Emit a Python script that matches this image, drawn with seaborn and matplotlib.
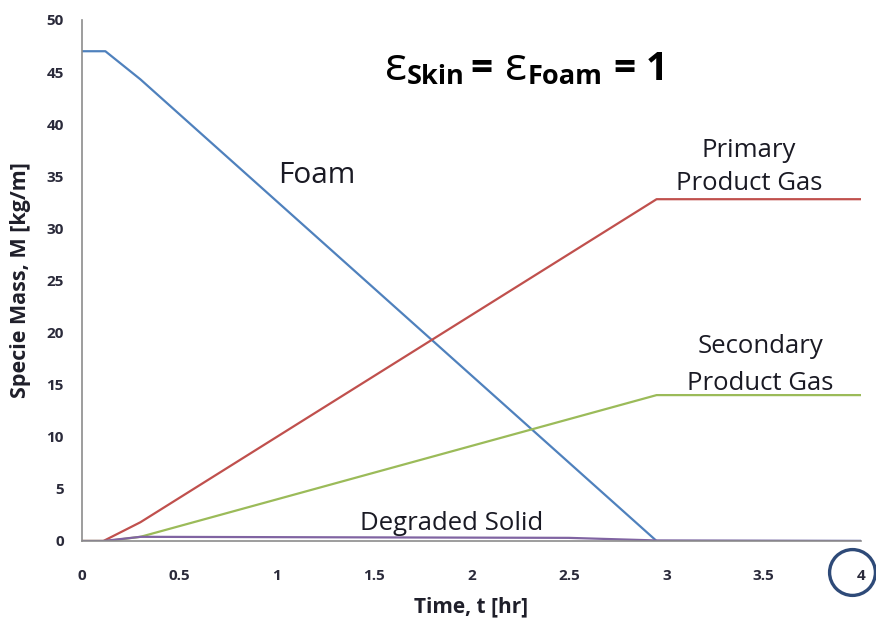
import numpy as np
import pandas as pd
import matplotlib
matplotlib.use("Agg")
import matplotlib.pyplot as plt
import matplotlib.transforms as mtransforms
import seaborn as sns

# Species mass histories (time in hours, mass per unit length in kg/m)
foam_t = [0.0, 0.12, 0.30, 2.95, 4.0]
foam_m = [47.0, 47.0, 44.3, 0.0, 0.0]

primary_t = [0.0, 0.11, 0.30, 2.95, 4.0]
primary_m = [0.0, 0.0, 1.8, 32.8, 32.8]

secondary_t = [0.0, 0.13, 0.30, 2.95, 4.0]
secondary_m = [0.0, 0.0, 0.4, 14.0, 14.0]

degraded_t = [0.0, 0.11, 0.30, 2.50, 2.95, 4.0]
degraded_m = [0.0, 0.0, 0.40, 0.30, 0.05, 0.0]

series_names = ["Foam", "Primary Product Gas", "Secondary Product Gas", "Degraded Solid"]
series_colors = ["#4F81BD", "#C0504D", "#9BBB59", "#8064A2"]

x_ticks = [0, 0.5, 1, 1.5, 2, 2.5, 3, 3.5, 4]
x_tick_labels = ["0", "0.5", "1", "1.5", "2", "2.5", "3", "3.5", "4"]
y_ticks = [0, 5, 10, 15, 20, 25, 30, 35, 40, 45, 50]

frames = []
for name, t, m in zip(series_names,
                      [foam_t, primary_t, secondary_t, degraded_t],
                      [foam_m, primary_m, secondary_m, degraded_m]):
    frames.append(pd.DataFrame({"time": t, "mass": m, "species": name}))
df = pd.concat(frames, ignore_index=True)

sns.set_theme(style="white")
plt.rcParams["font.family"] = ["Open Sans", "DejaVu Sans"]

W, H = 876, 626
fig = plt.figure(figsize=(W / 100, H / 100), dpi=100)
ax = fig.add_axes([0.0936, 0.1358, 0.8894, 0.8323])

sns.lineplot(data=df, x="time", y="mass", hue="species", hue_order=series_names,
             palette=series_colors, linewidth=1.6, legend=False, ax=ax,
             sort=False, estimator=None)

ax.set_xlim(0, 4)
ax.set_ylim(0, 50)
ax.set_xticks(x_ticks)
ax.set_xticklabels(x_tick_labels)
ax.set_yticks(y_ticks)
tick_color = "#2a2a3a"
ax.tick_params(axis="x", length=0, pad=20, labelsize=11, labelcolor=tick_color)
ax.tick_params(axis="y", length=0, pad=13, labelsize=11, labelcolor=tick_color)
for lbl in ax.get_xticklabels() + ax.get_yticklabels():
    lbl.set_fontweight("bold")

for side in ["top", "right"]:
    ax.spines[side].set_visible(False)
for side in ["left", "bottom"]:
    ax.spines[side].set_color("#8c8c8c")
    ax.spines[side].set_linewidth(1.2)

ax.set_xlabel("Time, t [hr]", fontsize=15, fontweight="bold", color="#1f1f2a", labelpad=10)
ax.set_ylabel("Specie Mass, M [kg/m]", fontsize=15.5, fontweight="bold", color="#1f1f2a", labelpad=11)

# Curve labels
txt_color = "#1a1a24"
ax.text(1.207, 34.36, "Foam", fontsize=21.5, color=txt_color, ha="center", va="baseline")
ax.text(3.425, 36.85, "Primary", fontsize=18.5, color=txt_color, ha="center", va="baseline")
ax.text(3.425, 33.69, "Product Gas", fontsize=18.5, color=txt_color, ha="center", va="baseline")
ax.text(3.481, 18.04, "Secondary", fontsize=18.5, color=txt_color, ha="center", va="baseline")
ax.text(3.481, 14.49, "Product Gas", fontsize=18.5, color=txt_color, ha="center", va="baseline")
ax.text(1.90, 1.06, "Degraded Solid", fontsize=18.5, color=txt_color, ha="center", va="baseline")


def fig_text_px(x_px, y_px, s, **kw):
    """Place text using pixel coordinates measured from the top-left corner."""
    return fig.text(x_px / W, 1 - y_px / H, s, ha="left", va="baseline", **kw)


# Emissivity statement: ε_Skin = ε_Foam = 1
title_pieces = [
    (385, 80, "ε", 33, "normal"),
    (407, 84, "Skin", 19.5, "bold"),
    (470, 80, "=", 28, "bold"),
    (505, 80, "ε", 33, "normal"),
    (528, 84, "Foam", 19.5, "bold"),
    (613, 80, "=", 28, "bold"),
    (646, 80, "1", 28, "bold"),
]
for x_px, y_px, s, size, weight in title_pieces:
    fig_text_px(x_px, y_px, s, fontsize=size, fontweight=weight, color="black")

# Highlight ring around the last time tick label
ring_offset = mtransforms.ScaledTranslation(-9 / 100, 0, fig.dpi_scale_trans)
ax.plot([x_ticks[-1]], [-0.06], marker="o", markersize=33, markerfacecolor="none",
        markeredgecolor="#2E4A78", markeredgewidth=2.4, clip_on=False,
        transform=ax.get_xaxis_transform() + ring_offset)

fig.savefig("out.png", dpi=100, facecolor="white")
